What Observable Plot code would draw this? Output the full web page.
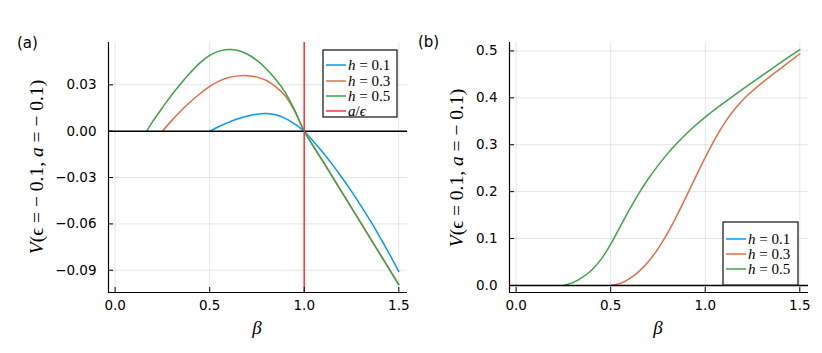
<!DOCTYPE html>
<html><head><meta charset="utf-8">
<script src="https://cdn.jsdelivr.net/npm/d3@7"></script>
<script src="https://cdn.jsdelivr.net/npm/@observablehq/plot@0.6"></script>
<style>
body{margin:0;background:#fff;}
#fig{position:relative;width:822px;height:353px;background:#fff;overflow:hidden;}
#fig svg{position:absolute;top:0;}
</style></head><body><div id="fig"></div>
<script>
// ---- data ----
const xDomain = [-0.035, 1.546];
const xTicks = [0, 0.5, 1.0, 1.5];
const yDomainA = [-0.1044, 0.0574];
const yTicksA = [-0.09, -0.06, -0.03, 0, 0.03];
const yDomainB = [-0.0151, 0.518];
const yTicksB = [0, 0.1, 0.2, 0.3, 0.4, 0.5];
const aOverEps = 1.0;
const hLabels = ["0.1", "0.3", "0.5"];
const colors = ["#009AF9", "#E26F46", "#3DA44D"];
const vlineColor = "#FF3B3B";

// panel (a): eps = -0.1, a = -0.1
const betaA1 = [0.5,0.55,0.6,0.65,0.7,0.75,0.8,0.85,0.9,0.95,1.0,1.05,1.1,1.15,1.2,1.25,1.3,1.35,1.4,1.45,1.5];
const vA1 = [0,0.0030,0.0057,0.0080,0.0098,0.0110,0.0114,0.0106,0.0083,0.0046,0,-0.0068,-0.0140,-0.0218,-0.0301,-0.0389,-0.0483,-0.0581,-0.0685,-0.0794,-0.0908];
const betaA3 = [0.25,0.3,0.35,0.4,0.45,0.5,0.55,0.6,0.65,0.7,0.75,0.8,0.85,0.9,0.95,1.0,1.1,1.2,1.3,1.4,1.5];
const vA3 = [0,0.0070,0.0134,0.0192,0.0244,0.0290,0.0324,0.0347,0.0358,0.0359,0.0350,0.0328,0.0287,0.0228,0.0128,0,-0.0196,-0.0394,-0.0593,-0.0792,-0.0992];
const betaA5 = [0.1667,0.2,0.25,0.3,0.35,0.4,0.45,0.5,0.55,0.6,0.65,0.7,0.75,0.8,0.85,0.9,0.95,1.0,1.1,1.2,1.3,1.4,1.5];
const vA5 = [0,0.0065,0.0152,0.0236,0.0312,0.0382,0.0444,0.0490,0.0518,0.0529,0.0522,0.0498,0.0458,0.0403,0.0334,0.0250,0.0135,0,-0.0199,-0.0398,-0.0596,-0.0795,-0.0994];

// panel (b): eps = 0.1, a = -0.1  (h = 0.1 curve does not appear)
const betaB3 = [0.5,0.55,0.6,0.65,0.7,0.75,0.8,0.85,0.9,0.95,1.0,1.05,1.1,1.15,1.2,1.25,1.3,1.35,1.4,1.45,1.5];
const vB3 = [0,0.004,0.0145,0.030,0.051,0.078,0.111,0.149,0.190,0.232,0.273,0.311,0.345,0.373,0.396,0.415,0.432,0.448,0.463,0.4785,0.494];
const betaB5 = [0.25,0.3,0.35,0.4,0.45,0.5,0.55,0.6,0.65,0.7,0.75,0.8,0.85,0.9,0.95,1.0,1.05,1.1,1.2,1.3,1.4,1.5];
const vB5 = [0,0.006,0.017,0.033,0.056,0.088,0.125,0.162,0.197,0.228,0.2555,0.2805,0.303,0.3235,0.342,0.359,0.375,0.390,0.419,0.4475,0.4755,0.503];

// ---- drawing ----
const rows = (b, v) => b.map((x, i) => ({b: x, v: v[i]}));
const SERIF = "'Liberation Serif', 'DejaVu Serif', serif";
const SANS = "'DejaVu Sans', sans-serif";

function makePanel({width, marginLeft, marginRight, yDomain, yTicks, yFormat, series, vline}) {
  const marks = [
    Plot.gridX(xTicks, {stroke: "#000", strokeOpacity: 0.1, strokeWidth: 1}),
    Plot.gridY(yTicks, {stroke: "#000", strokeOpacity: 0.1, strokeWidth: 1}),
    ...series.map(s => Plot.line(s.data, {x: "b", y: "v", stroke: s.color, strokeWidth: 1.5, curve: "catmull-rom"})),
    Plot.ruleY([0], {stroke: "#000", strokeWidth: 1.5})
  ];
  if (vline != null) marks.push(Plot.ruleX([vline], {stroke: vlineColor, strokeWidth: 1.6}));
  marks.push(
    Plot.ruleX([xDomain[0]], {stroke: "#000", strokeWidth: 1.2}),
    Plot.ruleY([yDomain[0]], {stroke: "#000", strokeWidth: 1.2}),
    Plot.axisX(xTicks, {tickSize: -5, tickFormat: () => "", label: null, stroke: "#000"}),
    Plot.axisY(yTicks, {tickSize: -5, tickFormat: () => "", label: null, stroke: "#000"}),
    Plot.axisX(xTicks, {tickSize: 0, tickPadding: 8, tickFormat: d3.format(".1f"), label: null}),
    Plot.axisY(yTicks, {tickSize: 0, tickPadding: 12, tickFormat: yFormat, label: null})
  );
  return Plot.plot({
    width, height: 353, marginLeft, marginRight, marginTop: 42, marginBottom: 61,
    x: {domain: xDomain}, y: {domain: yDomain},
    style: {fontFamily: SANS, fontSize: "13.5px", color: "#000", background: "transparent", overflow: "visible"},
    marks
  });
}

function addMathLabel(svg, x, y, rotate, parts, size) {
  const t = d3.select(svg).append("text")
    .attr("transform", `translate(${x},${y})` + (rotate ? " rotate(-90)" : ""))
    .attr("text-anchor", "middle").attr("dominant-baseline", "central")
    .attr("fill", "#000").style("font-family", SERIF).style("font-size", size + "px");
  parts.forEach(([txt, it]) => t.append("tspan").style("font-style", it ? "italic" : "normal").text(txt));
}

function addLegend(svg, box, rowsY, entries) {
  const g = d3.select(svg).append("g");
  g.append("rect").attr("x", box.x).attr("y", box.y).attr("width", box.w).attr("height", box.h)
    .attr("fill", "#fff").attr("stroke", "#222").attr("stroke-width", 1.3);
  entries.forEach((e, i) => {
    const y = rowsY[i];
    g.append("line").attr("x1", box.x + 3).attr("x2", box.x + 23).attr("y1", y).attr("y2", y)
      .attr("stroke", e.color).attr("stroke-width", 1.5);
    const t = g.append("text").attr("x", box.x + 25).attr("y", y).attr("dominant-baseline", "central")
      .attr("text-anchor", "start")
      .attr("fill", "#000").style("font-family", SERIF).style("font-size", "15px");
    e.parts.forEach(([txt, it]) => t.append("tspan").style("font-style", it ? "italic" : "normal").text(txt));
  });
}

function addPanelTag(svg, x, y, txt) {
  d3.select(svg).append("text").attr("x", x).attr("y", y).attr("dominant-baseline", "central")
    .attr("text-anchor", "start")
    .attr("fill", "#000").style("font-family", SANS).style("font-size", "15px").text(txt);
}

const fig = document.getElementById("fig");

// Panel (a)
const svgA = makePanel({
  width: 411, marginLeft: 108, marginRight: 4,
  yDomain: yDomainA, yTicks: yTicksA, yFormat: d3.format(".2f"),
  series: [
    {data: rows(betaA1, vA1), color: colors[0]},
    {data: rows(betaA3, vA3), color: colors[1]},
    {data: rows(betaA5, vA5), color: colors[2]}
  ],
  vline: aOverEps
});
svgA.style.left = "0px";
addMathLabel(svgA, 36, 167, true, [["V", true], ["(ϵ = − 0.1, ", false], ["a", true], [" = − 0.1)", false]], 19.5);
addMathLabel(svgA, 257, 327, false, [["β", true]], 19);
addPanelTag(svgA, 17, 43, "(a)");
addLegend(svgA, {x: 323, y: 50, w: 74, h: 67}, [65, 81, 96, 111], [
  {color: colors[0], parts: [["h", true], [" = " + hLabels[0], false]]},
  {color: colors[1], parts: [["h", true], [" = " + hLabels[1], false]]},
  {color: colors[2], parts: [["h", true], [" = " + hLabels[2], false]]},
  {color: vlineColor, parts: [["a", true], ["/", false], ["ϵ", true]]}
]);
fig.appendChild(svgA);

// Panel (b)
const svgB = makePanel({
  width: 411, marginLeft: 98, marginRight: 14,
  yDomain: yDomainB, yTicks: yTicksB, yFormat: d3.format(".1f"),
  series: [
    {data: rows(betaB3, vB3), color: colors[1]},
    {data: rows(betaB5, vB5), color: colors[2]}
  ],
  vline: null
});
svgB.style.left = "411px";
addMathLabel(svgB, 45, 168, true, [["V", true], ["(ϵ = 0.1, ", false], ["a", true], [" = − 0.1)", false]], 19.5);
addMathLabel(svgB, 247, 327, false, [["β", true]], 19);
addPanelTag(svgB, 7, 42, "(b)");
addLegend(svgB, {x: 312, y: 222, w: 75, h: 63}, [239, 254, 269], [
  {color: colors[0], parts: [["h", true], [" = " + hLabels[0], false]]},
  {color: colors[1], parts: [["h", true], [" = " + hLabels[1], false]]},
  {color: colors[2], parts: [["h", true], [" = " + hLabels[2], false]]}
]);
fig.appendChild(svgB);
</script>
</body></html>
